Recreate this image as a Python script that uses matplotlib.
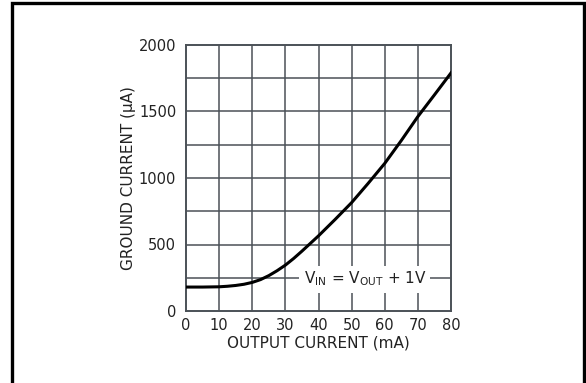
#!/usr/bin/env python3
"""Ground current vs output current (LDO datasheet style chart)."""

import matplotlib

matplotlib.use("Agg")
import matplotlib.pyplot as plt
from matplotlib.patches import Rectangle

# values
OUTPUT_CURRENT_MA = [0, 5, 10, 12.5, 15, 17.5, 20, 22.5, 25, 27.5, 30, 32.5, 35, 40, 45,
                     50, 55, 60, 65, 70, 75, 80]
GROUND_CURRENT_UA = [180, 180, 182, 186, 192, 201, 215, 236, 266, 303, 345, 395, 450, 565, 688,
                     815, 960, 1110, 1282, 1462, 1625, 1790]

X_TICKS = [0, 10, 20, 30, 40, 50, 60, 70, 80]
Y_TICKS = [0, 500, 1000, 1500, 2000]
Y_GRID = [250, 500, 750, 1000, 1250, 1500, 1750]

CONDITION_LABEL = "V$_{IN}$ = V$_{OUT}$ + 1V"

GRID_COLOR = "#4b5157"
TEXT_COLOR = "#222222"
TICK_FONT_SIZE = 10.5
LABEL_FONT_SIZE = 11

plt.rcParams["font.family"] = ["DejaVu Sans"]
plt.rcParams["mathtext.default"] = "regular"


def main() -> None:
    fig = plt.figure(figsize=(5.86, 3.83), dpi=100)

    # outer frame (open at the bottom, like the cropped original)
    fig.patches.append(
        Rectangle(
            (11.5 / 586, -0.05),
            (584 - 11.5) / 586,
            1.05 - 3.5 / 383,
            transform=fig.transFigure,
            fill=False,
            edgecolor="black",
            linewidth=2.4,
        )
    )

    ax = fig.add_axes([186 / 586, 1 - 311 / 383, (451 - 186) / 586, (311 - 45) / 383])
    ax.set_xlim(0, 80)
    ax.set_ylim(0, 2000)

    for x in X_TICKS[1:-1]:
        ax.axvline(x, color=GRID_COLOR, linewidth=1.1, zorder=1)
    for y in Y_GRID:
        ax.axhline(y, color=GRID_COLOR, linewidth=1.1, zorder=1)

    ax.text(
        54,
        240,
        CONDITION_LABEL,
        ha="center",
        va="center",
        fontsize=LABEL_FONT_SIZE,
        color=TEXT_COLOR,
        bbox=dict(facecolor="white", edgecolor="none", pad=3.0),
        zorder=2,
    )

    ax.plot(OUTPUT_CURRENT_MA, GROUND_CURRENT_UA, color="black", linewidth=2.2,
            solid_joinstyle="round", zorder=3)

    for spine in ax.spines.values():
        spine.set_color(GRID_COLOR)
        spine.set_linewidth(1.4)

    ax.set_xticks(X_TICKS)
    ax.set_yticks(Y_TICKS)
    ax.tick_params(axis="x", length=0, pad=5, labelsize=TICK_FONT_SIZE, colors=TEXT_COLOR)
    ax.tick_params(axis="y", length=0, pad=7, labelsize=TICK_FONT_SIZE, colors=TEXT_COLOR)
    ax.set_xlabel("OUTPUT CURRENT (mA)", fontsize=LABEL_FONT_SIZE, color=TEXT_COLOR, labelpad=2)
    ax.set_ylabel("GROUND CURRENT (µA)", fontsize=LABEL_FONT_SIZE, color=TEXT_COLOR, labelpad=2)

    fig.savefig("out.png", dpi=100)
    plt.close(fig)


if __name__ == "__main__":
    main()
